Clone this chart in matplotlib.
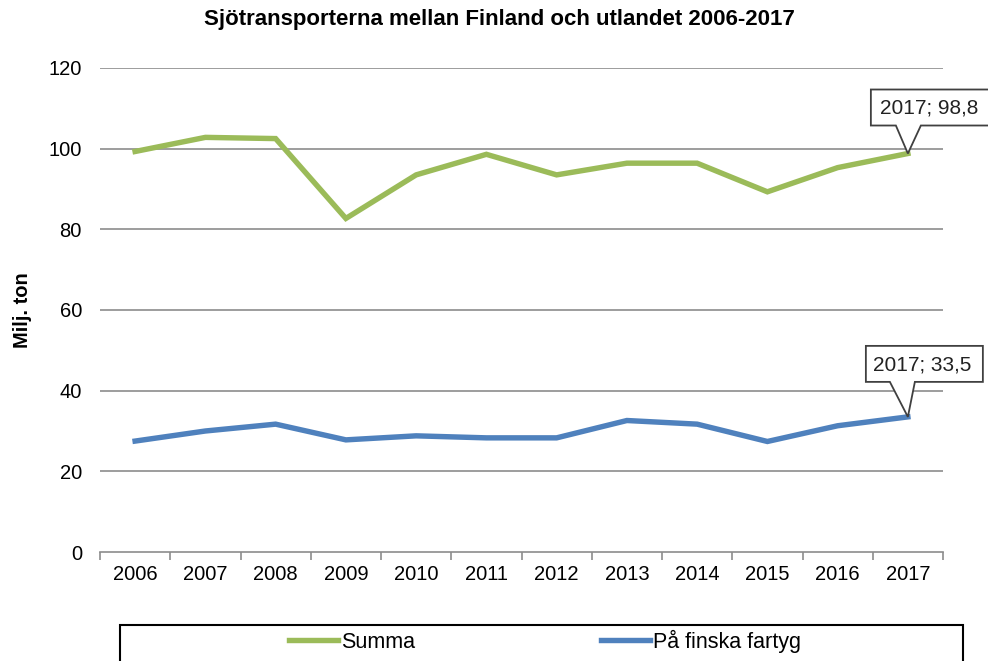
import numpy as np
import matplotlib
matplotlib.use("Agg")
import matplotlib.pyplot as plt
import matplotlib.transforms as mtransforms
from matplotlib.patches import Polygon, Rectangle
from matplotlib.lines import Line2D

plt.rcParams['font.family'] = ['Liberation Sans', 'DejaVu Sans']

years = ["2006", "2007", "2008", "2009", "2010", "2011", "2012", "2013", "2014", "2015", "2016", "2017"]
summa = [99.3, 102.8, 102.5, 82.7, 93.5, 98.6, 93.5, 96.4, 96.4, 89.3, 95.3, 98.8]
finska = [27.5, 30.0, 31.7, 27.8, 28.8, 28.3, 28.3, 32.6, 31.7, 27.4, 31.3, 33.5]
series_names = ["Summa", "På finska fartyg"]
colors = ["#9BBB59", "#4F81BD"]
title = "Sjötransporterna mellan Finland och utlandet 2006-2017"
ylabel = "Milj. ton"
yticks = [0, 20, 40, 60, 80, 100, 120]

W, H = 988, 661
fig = plt.figure(figsize=(W / 100, H / 100), dpi=100)
ax = fig.add_axes([100 / W, (H - 552) / H, (943 - 100) / W, (552 - 68) / H])

x = np.arange(len(years))
grid_c = "#8C8C8C"
for yt in yticks[1:]:
    ax.axhline(yt, color=grid_c, lw=1.2, zorder=1)

ax.plot(x, summa, color=colors[0], lw=3.9, solid_joinstyle='miter', zorder=3)
ax.plot(x, finska, color=colors[1], lw=3.9, solid_joinstyle='miter', zorder=3)

ax.set_xlim(-0.5, len(years) - 0.5)
ax.set_ylim(0, 120)
ax.set_yticks(yticks)
ax.set_yticklabels([str(v) for v in yticks])
ax.set_xticks(x)
ax.set_xticklabels(years)
ax.set_xticks(np.arange(-0.5, len(years), 1), minor=True)
ax.tick_params(axis='x', which='major', length=0, pad=9, labelsize=14.5)
ax.tick_params(axis='x', which='minor', length=6, width=1.2, color=grid_c, direction='out')
ax.tick_params(axis='y', length=0, pad=13, labelsize=14.5)
for s in ['top', 'right', 'left']:
    ax.spines[s].set_visible(False)
ax.spines['bottom'].set_color(grid_c)
ax.spines['bottom'].set_linewidth(1.2)

ax.set_ylabel(ylabel, fontsize=14.5, fontweight='bold')
ax.yaxis.set_label_coords(-68 / 843, 0.5)
fig.text(499 / W, (H - 19) / H, title, ha='center', va='center', fontsize=16, fontweight='bold')

# callouts
def callout(xi, yi, text, left, right, top, bottom, wl, wr, tdx, tdy):
    trans = mtransforms.Affine2D() + mtransforms.ScaledTranslation(xi, yi, ax.transData)
    verts = [(left, bottom), (left, top), (right, top), (right, bottom),
             (wr, bottom), (0, 0), (wl, bottom)]
    poly = Polygon(verts, closed=True, transform=trans, facecolor='white',
                   edgecolor='#404040', lw=1.3, clip_on=False, zorder=5)
    ax.add_patch(poly)
    ax.annotate(text, xy=(xi, yi), xycoords='data', xytext=(tdx, tdy),
                textcoords='offset pixels', ha='left', va='center',
                fontsize=15, color='#222222', zorder=6, annotation_clip=False)

last = len(years) - 1
callout(x[last], summa[last], f"{years[last]}; {str(summa[last]).replace('.', ',')}",
        -37, 95, 64, 28, -12, 13, -28, 46)
callout(x[last], finska[last], f"{years[last]}; {str(finska[last]).replace('.', ',')}",
        -42, 75, 71, 35, -18, 7, -35, 52)

# legend box
fig.patches.append(Rectangle((120 / W, -20 / H), (963 - 120) / W, (H - 625 + 20) / H,
                             transform=fig.transFigure, facecolor='white',
                             edgecolor='black', lw=1.5, zorder=0))
handles = [Line2D([], [], color=c, lw=3.9) for c in colors]
fig.legend(handles, series_names, loc='center', bbox_to_anchor=(545 / W, (H - 641) / H),
           ncol=2, frameon=False, fontsize=15.5, handlelength=2.3, handletextpad=0.15,
           columnspacing=8.6)

fig.savefig("out.png", dpi=100)
